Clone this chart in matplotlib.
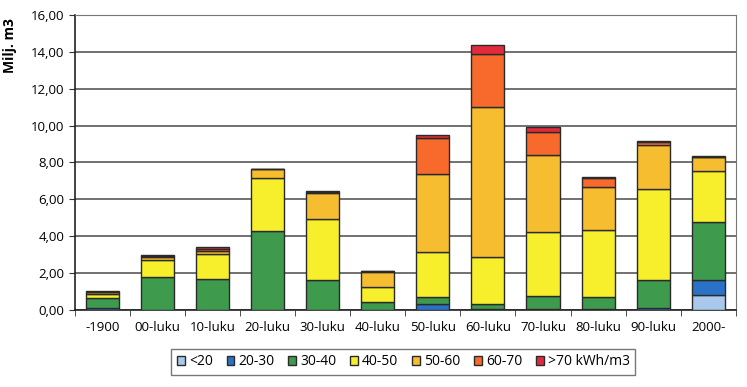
import matplotlib.pyplot as plt
import numpy as np

# ikäluokat ja energiankulutusluokat (Milj. m3)
categories = ['-1900', '00-luku', '10-luku', '20-luku', '30-luku', '40-luku',
              '50-luku', '60-luku', '70-luku', '80-luku', '90-luku', '2000-']
classes = ['<20', '20-30', '30-40', '40-50', '50-60', '60-70', '>70 kWh/m3']

lt20 = [0.00, 0.00, 0.00, 0.00, 0.00, 0.00, 0.00, 0.00, 0.00, 0.00, 0.00, 0.79]
c20_30 = [0.06, 0.00, 0.00, 0.00, 0.00, 0.00, 0.30, 0.05, 0.03, 0.03, 0.10, 0.81]
c30_40 = [0.55, 1.78, 1.64, 4.28, 1.60, 0.41, 0.36, 0.25, 0.70, 0.67, 1.50, 3.17]
c40_50 = [0.25, 0.91, 1.38, 2.85, 3.32, 0.80, 2.45, 2.57, 3.50, 3.62, 4.93, 2.77]
c50_60 = [0.10, 0.18, 0.18, 0.49, 1.43, 0.84, 4.25, 8.15, 4.17, 2.32, 2.41, 0.73]
c60_70 = [0.02, 0.04, 0.08, 0.00, 0.04, 0.02, 1.98, 2.85, 1.23, 0.49, 0.15, 0.02]
gt70 = [0.03, 0.05, 0.10, 0.03, 0.05, 0.04, 0.14, 0.50, 0.30, 0.09, 0.05, 0.05]

colors = ['#a9c8ec', '#2a72c6', '#3e9a4c', '#f7ee2c', '#f7bd30', '#f76a2c', '#e22a3c']

plt.rcParams['font.family'] = 'Open Sans'

fig = plt.figure(figsize=(7.47, 3.87), dpi=100)
ax = fig.add_axes([0.100, 0.200, 0.885, 0.761])

x = np.arange(len(categories))
series = [lt20, c20_30, c30_40, c40_50, c50_60, c60_70, gt70]
bottom = np.zeros(len(categories))
for vals, col, lab in zip(series, colors, classes):
    ax.bar(x, vals, 0.6, bottom=bottom, color=col, edgecolor='#2a2a2a',
           linewidth=1.0, label=lab, zorder=3)
    bottom += np.array(vals)

ax.set_xlim(-0.5, len(categories) - 0.5)
ax.set_ylim(0, 16)
ax.set_yticks(np.arange(0, 17, 2))
ax.set_yticklabels([f'{v:.2f}'.replace('.', ',') for v in np.arange(0, 17, 2)], fontsize=9.5)
ax.set_xticks(x)
ax.set_xticklabels(categories, fontsize=9.5)
ax.set_xticks(np.arange(-0.5, len(categories)), minor=True)
ax.tick_params(axis='x', which='major', length=0, pad=8)
ax.tick_params(axis='x', which='minor', length=4, color='#333333')
ax.tick_params(axis='y', length=4, color='#333333')
ax.grid(axis='y', color='#4a4a4a', linewidth=1.1, zorder=0)

for s in ['top', 'right']:
    ax.spines[s].set_color('#777777')
for s in ['left', 'bottom']:
    ax.spines[s].set_color('#222222')
    ax.spines[s].set_linewidth(1.2)

ax.set_ylabel('Milj. m3', fontsize=10, fontweight='bold', loc='top')
ax.yaxis.set_label_coords(-0.088, 0.99)

leg = fig.legend(loc='center', bbox_to_anchor=(0.54, 0.065), ncol=7, fontsize=10,
                 frameon=True, fancybox=False, edgecolor='#555555',
                 handlelength=0.55, handleheight=0.55, handletextpad=0.3,
                 columnspacing=1.0, borderpad=0.4)

fig.savefig('out.png', dpi=100)
